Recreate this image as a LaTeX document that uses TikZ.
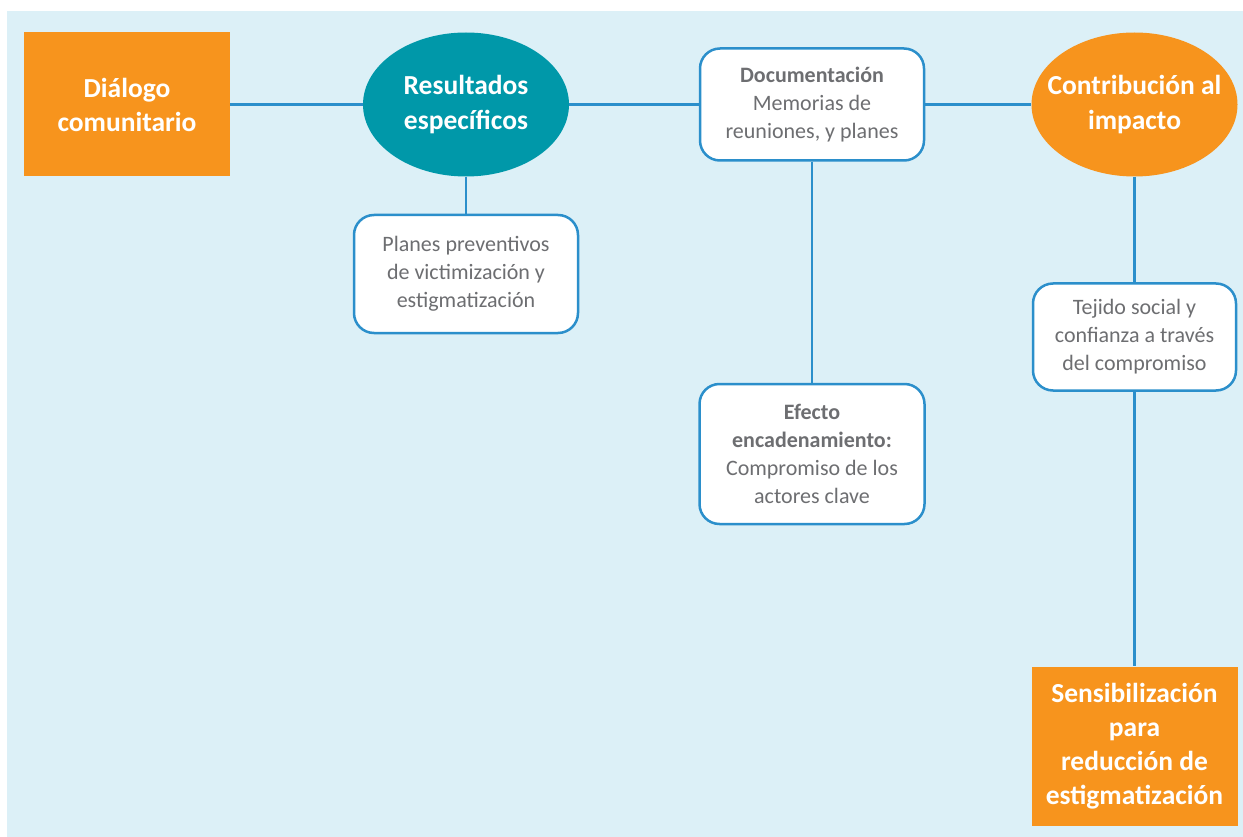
\documentclass[tikz,border=0pt]{standalone}
\usepackage{fontspec}
\setmainfont{Carlito}
\usetikzlibrary{shapes.geometric}
\definecolor{orangebox}{HTML}{F7941D}
\definecolor{tealbox}{HTML}{0098A9}
\definecolor{lineblue}{HTML}{2B8FCB}
\definecolor{skyback}{HTML}{DCF0F7}
\definecolor{greytext}{HTML}{6D6E71}

\begin{document}
\begin{tikzpicture}[x=1pt,y=-1pt,
  every node/.style={align=center,inner sep=0pt},
  sqbox/.style={rectangle,fill=orangebox,text=white,font=\fontsize{27.5}{34}\selectfont\bfseries,minimum width=206pt},
  ovalbox/.style={ellipse,text=white,font=\fontsize{27.5}{35}\selectfont\bfseries,inner xsep=-30pt,minimum width=206pt,minimum height=144pt},
  roundbox/.style={rectangle,rounded corners=20pt,draw=lineblue,line width=2.5pt,fill=white,text=greytext,font=\fontsize{22}{28}\selectfont},
  link/.style={draw=lineblue,line width=2.5pt}]
\useasboundingbox (0,0) rectangle (1243,837);
\fill[skyback] (7,11) rectangle (1243,837);

\node (dialogo) [sqbox,minimum height=144pt] at (127,104.5) {Diálogo\\comunitario};
\node (resultados) [ovalbox,fill=tealbox] at (466,104.5) {Resultados\\específicos};
\node (planes) [roundbox,minimum width=224pt,minimum height=118pt] at (466,274) {Planes preventivos\\de victimización y\\estigmatización};
\node (docu) [roundbox,minimum width=224pt,minimum height=112pt] at (812,104.5) {\textbf{Documentación}\\Memorias de\\reuniones, y planes};
\node (efecto) [roundbox,minimum width=225pt,minimum height=140pt] at (812,454) {\textbf{Efecto}\\\textbf{encadenamiento:}\\Compromiso de los\\actores clave};
\node (contrib) [ovalbox,fill=orangebox] at (1134.5,104.5) {Contribución al\\impacto};
\node (tejido) [roundbox,minimum width=203pt,minimum height=107pt] at (1134.5,337) {Tejido social y\\confianza a través\\del compromiso};
\node (sensib) [sqbox,minimum height=159pt] at (1134.5,746) {Sensibilización\\para\\reducción de\\estigmatización};

\path[link] (dialogo) -- (resultados);
\path[link] (resultados) -- (docu);
\path[link] (docu) -- (contrib);
\path[link] (resultados) -- (planes);
\path[link] (docu) -- (efecto);
\path[link] (contrib) -- (tejido);
\path[link] (tejido) -- (sensib);
\end{tikzpicture}
\end{document}
